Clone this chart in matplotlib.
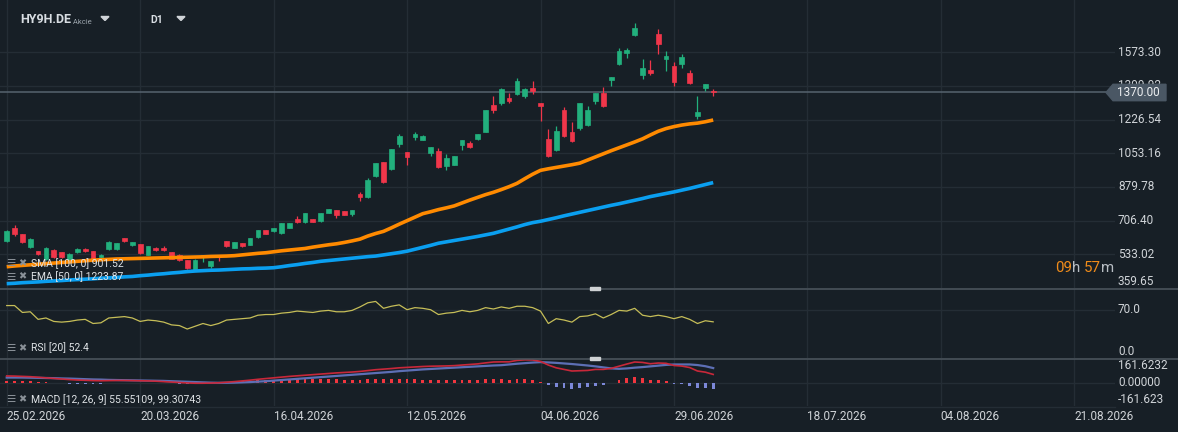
import matplotlib
matplotlib.use('Agg')
import matplotlib.pyplot as plt
from matplotlib.patches import Rectangle, Polygon
from matplotlib.transforms import blended_transform_factory as blend

# ---------------- data ----------------
date_labels = ['25.02.2026', '20.03.2026', '16.04.2026', '12.05.2026', '04.06.2026',
               '29.06.2026', '18.07.2026', '04.08.2026', '21.08.2026']
date_step = 17

opens = [601, 670, 635, 570, 548, 508, 553, 543, 493, 544, 562, 548, 519, 560, 560, 615, 580, 584, 531, 568,
         568, 543, 532, 502, 450, 519, 472, 526, 599, 565, 589, 582, 621, 656, 652, 642, 668, 714, 699, 714,
         704, 745, 759, 754, 740, 841, 827, 935, 1006, 971, 1100, 1057, 1136, 1123, 1054, 1062, 987, 992, 1095, 1104,
         1126, 1162, 1299, 1311, 1335, 1356, 1345, 1387, 1309, 1128, 1068, 1273, 1160, 1182, 1196, 1320, 1362, 1428, 1512, 1568,
         1661, 1455, 1479, 1664, 1536, 1500, 1510, 1464, 1244, 1388, 1374]
highs = [656, 682, 638, 616, 551, 569, 558, 545, 540, 567, 564, 550, 537, 601, 592, 617, 597, 587, 576, 573,
         574, 545, 535, 505, 508, 530, 499, 528, 601, 596, 592, 617, 658, 660, 668, 694, 694, 728, 745, 716,
         745, 766, 761, 756, 761, 851, 925, 1004, 1008, 1075, 1150, 1060, 1160, 1145, 1085, 1078, 1047, 1039, 1121, 1115,
         1152, 1275, 1345, 1387, 1362, 1438, 1388, 1423, 1311, 1179, 1191, 1289, 1212, 1312, 1294, 1365, 1392, 1446, 1592, 1592,
         1721, 1536, 1531, 1690, 1577, 1520, 1562, 1479, 1350, 1410, 1381]
lows = [597, 629, 593, 567, 531, 506, 514, 516, 490, 541, 546, 504, 516, 557, 557, 598, 575, 536, 528, 552,
        551, 507, 499, 459, 447, 493, 462, 496, 573, 563, 573, 580, 619, 636, 650, 640, 666, 693, 696, 697,
        701, 743, 719, 733, 729, 807, 824, 932, 902, 969, 1084, 990, 1121, 1120, 1038, 979, 965, 990, 1068, 1082,
        1121, 1160, 1260, 1301, 1311, 1351, 1337, 1356, 1217, 1032, 1063, 1134, 1109, 1172, 1194, 1306, 1293, 1398, 1509, 1541,
        1658, 1433, 1453, 1562, 1474, 1397, 1489, 1409, 1227, 1371, 1345]
closes = [651, 639, 596, 613, 534, 567, 519, 519, 536, 558, 550, 507, 532, 598, 589, 601, 594, 539, 574, 555,
          555, 510, 502, 462, 505, 527, 496, 521, 575, 594, 575, 615, 656, 639, 666, 692, 692, 697, 743, 699,
          743, 764, 735, 735, 759, 826, 913, 1001, 904, 1073, 1140, 1033, 1150, 1140, 1083, 982, 1026, 1037, 1119, 1085,
          1150, 1273, 1273, 1381, 1320, 1423, 1385, 1371, 1296, 1037, 1165, 1141, 1114, 1309, 1278, 1362, 1296, 1443, 1577, 1582,
          1695, 1489, 1464, 1613, 1551, 1419, 1546, 1412, 1263, 1407, 1370]

ema50 = [469, 473, 476, 479, 482, 485, 488, 491, 494, 497, 500, 503, 505, 507, 509, 510, 511, 512, 513, 514,
         515, 516, 517, 518, 519, 520, 522, 523, 524, 526, 530, 534, 538, 541, 546, 551, 555, 559, 563, 570,
         576, 582, 587, 594, 602, 611, 627, 640, 651, 669, 688, 706, 724, 742, 752, 763, 772, 782, 797, 812,
         826, 840, 852, 866, 881, 898, 922, 945, 965, 973, 980, 987, 994, 1002, 1018, 1034, 1050, 1066, 1081, 1096,
         1111, 1127, 1147, 1166, 1180, 1190, 1198, 1204, 1208, 1215, 1224]
sma100 = [382, 384, 387, 389, 391, 394, 396, 398, 401, 403, 405, 407, 410, 412, 414, 417, 419, 423, 426, 430,
          433, 437, 440, 444, 447, 449, 451, 452, 454, 456, 458, 459, 461, 462, 464, 469, 475, 480, 486, 491,
          497, 501, 505, 509, 513, 517, 521, 524, 530, 536, 542, 549, 559, 569, 579, 590, 597, 604, 611, 618,
          625, 633, 641, 652, 663, 674, 686, 696, 703, 712, 721, 731, 740, 749, 758, 767, 776, 785, 793, 802,
          811, 820, 830, 838, 846, 854, 863, 872, 882, 892, 902]

rsi = [76, 76, 66, 67, 56, 58, 53, 52, 53, 55, 56, 50, 51, 58, 59, 60, 58, 53, 55, 54,
       52, 48, 47, 42, 46, 50, 47, 50, 55, 56, 57, 58, 62, 63, 63, 65, 66, 68, 67, 66,
       68, 69, 67, 67, 69, 74, 80, 82, 72, 75, 77, 70, 73, 72, 70, 63, 65, 66, 69, 67,
       69, 73, 71, 74, 72, 75, 75, 73, 68, 50, 57, 55, 52, 60, 61, 64, 58, 63, 69, 68,
       72, 62, 60, 62, 60, 57, 60, 56, 50, 54, 52.4]

macd = [45, 44, 42, 40, 36, 32, 28, 24, 20, 17, 15, 13, 12, 13, 14, 14, 13, 12, 11, 9,
        6, 3, 0, -3, -5, -5, -4, -2, 2, 6, 11, 16, 22, 27, 32, 37, 42, 46, 50, 54,
        58, 62, 66, 69, 72, 76, 82, 88, 92, 96, 101, 104, 107, 110, 112, 113, 114, 116, 120, 124,
        128, 135, 141, 142, 142, 152, 156, 155, 145, 120, 101, 90, 79, 81, 83, 90, 90, 97, 112, 127,
        141, 138, 129, 134, 132, 117, 113, 103, 79, 71, 55.55]
signal = [34, 34, 34, 33, 32, 31, 30, 28, 27, 25, 23, 21, 20, 18, 17, 16, 15, 14, 13, 12,
          11, 9, 7, 5, 3, 1, -1, -2, -2, -1, 1, 3, 6, 9, 13, 17, 21, 25, 29, 33,
          37, 41, 45, 49, 53, 57, 61, 65, 69, 73, 78, 82, 86, 90, 93, 96, 99, 102, 105, 108,
          111, 114, 117, 119, 124, 129, 133, 137, 140, 138, 135, 131, 127, 122, 117, 111, 104, 97, 94, 97,
          102, 106, 111, 116, 121, 124, 124, 124, 120, 112, 99.31]
hist = [11, 10, 8, 7, 4, 1, -2, -4, -7, -8, -8, -8, -8, -5, -3, -2, -2, -2, -2, -3,
        -5, -6, -7, -8, -8, -6, -3, 0, 4, 7, 10, 13, 16, 18, 19, 20, 21, 21, 21, 21,
        21, 21, 21, 20, 19, 19, 21, 23, 23, 23, 23, 22, 21, 20, 19, 17, 15, 14, 15, 16,
        17, 21, 24, 23, 18, 23, 23, 18, 5, -18, -34, -41, -48, -41, -34, -21, -14, 0, 18, 30,
        39, 32, 18, 18, 11, -7, -11, -21, -41, -41, -44]

price_ticks = ['359.65', '533.02', '706.40', '879.78', '1053.16', '1226.54', '1399.92', '1573.30']
last_price = 1370.00

# ---------------- style ----------------
BG = '#171f26'
GRID = '#242d35'
SEP = '#4a535b'
TXT = '#d0d4d8'
GREEN = '#22b07d'
RED = '#f0364a'
FONT = 'Roboto'
plt.rcParams['font.family'] = [FONT, 'DejaVu Sans']

W, H = 1178, 432
fig = plt.figure(figsize=(W / 100, H / 100), dpi=100)
fig.patch.set_facecolor(BG)

def rect(x0, y0, x1, y1):
    return [x0 / W, 1 - y1 / H, (x1 - x0) / W, (y1 - y0) / H]

PX0, PXS = 6.7, 7.85      # pixel of bar 0, pixels per bar
PR = 1115
xlim = (-PX0 / PXS, (PR - PX0) / PXS)

ax = fig.add_axes(rect(0, 0, PR, 288))
ax_r = fig.add_axes(rect(0, 289, PR, 358))
ax_m = fig.add_axes(rect(0, 359, PR, 406))
ov = fig.add_axes([0, 0, 1, 1])
ov.set_xlim(0, W); ov.set_ylim(H, 0); ov.axis('off'); ov.patch.set_alpha(0)

for a in (ax, ax_r, ax_m):
    a.set_facecolor(BG)
    a.set_xlim(*xlim)
    for s in a.spines.values():
        s.set_visible(False)
    a.set_xticks([]); a.set_yticks([])
    for k in range(len(date_labels)):
        a.axvline(k * date_step, color=GRID, lw=1, zorder=0)

# main pane
tick_vals = [float(t) for t in price_ticks]
ymin = tick_vals[0]
ymax = ymin + 288 * 5.145
ax.set_ylim(ymin, ymax)
for v in tick_vals[1:]:
    ax.axhline(v, color=GRID, lw=1, zorder=0)
bt = blend(ax.transAxes, ax.transData)
for t, v in zip(price_ticks, tick_vals):
    ax.text(1 + 3 / PR, v, t, transform=bt, ha='left', va='bottom' if v == ymin else 'center',
            color=TXT, fontsize=8.5, clip_on=False, zorder=1)

n = len(opens)
xs = list(range(n))
for i in xs:
    o, h, l, c = opens[i], highs[i], lows[i], closes[i]
    col = GREEN if c >= o else RED
    ax.vlines(i, l, h, color=col, lw=0.9, zorder=3)
    body = abs(c - o)
    if body < 5:
        body = 5
    ax.bar(i, body, bottom=min(o, c), width=0.6, color=col, edgecolor=col, lw=0.5, zorder=4)

ax.plot(xs, sma100, color='#0a9ff0', lw=2.6, zorder=5, solid_capstyle='butt')
ax.plot(xs, ema50, color='#ff8a00', lw=2.6, zorder=5, solid_capstyle='butt')
ax.axhline(last_price, color='#56636f', lw=1.1, zorder=2)

# RSI pane
ax_r.set_ylim(0, 100)
ax_r.axhline(70, color=GRID, lw=1, zorder=0)
ax_r.plot(xs, rsi, color='#c6be58', lw=0.9, zorder=3)
btr = blend(ax_r.transAxes, ax_r.transData)
ax_r.text(1 + 3 / PR, 70, '70.0', transform=btr, va='center', color=TXT, fontsize=8.5, clip_on=False)
ax_r.text(1 + 3 / PR, 0, '0.0', transform=btr, va='bottom', color=TXT, fontsize=8.5, clip_on=False)

# MACD pane
M = 161.6232
ax_m.set_ylim(-M, M)
ax_m.axhline(0, color=GRID, lw=1, zorder=0)
hcols = ['#f0363f' if h >= 0 else '#7c88d8' for h in hist]
ax_m.bar(xs, hist, width=0.36, color=hcols, zorder=2)
ax_m.plot(xs, signal, color='#5d6fb5', lw=1.6, zorder=3)
ax_m.plot(xs, macd, color='#c8283a', lw=1.2, zorder=4)
btm = blend(ax_m.transAxes, ax_m.transData)
ax_m.text(1 + 3 / PR, M, '161.6232', transform=btm, va='top', color=TXT, fontsize=8.5, clip_on=False)
ax_m.text(1 + 3 / PR, 0, '0.00000', transform=btm, va='center', color=TXT, fontsize=8.5, clip_on=False)
ax_m.text(1 + 3 / PR, -M, '-161.623', transform=btm, va='bottom', color=TXT, fontsize=8.5, clip_on=False)

# date labels
bd = blend(ax_m.transData, ov.transData)
for k, lab in enumerate(date_labels):
    ax_m.text(k * date_step, 417, lab, transform=bd, ha='left', va='center', color=TXT,
              fontsize=8.5, clip_on=False)

# separators and handles
ov.plot([0, W], [288.5, 288.5], color=SEP, lw=1.2)
ov.plot([0, W], [358.5, 358.5], color=SEP, lw=1.2)
ov.plot([0, PR], [406.5, 406.5], color=GRID, lw=1)
for yy in (288.5, 358.5):
    ov.add_patch(Rectangle((590, yy - 1.5), 10, 3, color='#cfd2d4', zorder=6))

# current price label
ov.add_patch(Polygon([(1106, 92.5), (1113, 84.3), (1166, 84.3), (1166, 100.7), (1113, 100.7)],
                     closed=True, color='#4a5764', zorder=7))
ov.text(1117, 92.8, f'{last_price:.2f}', color='#eef0f2', fontsize=8.5, va='center', ha='left', zorder=8)

# countdown
CS = 10.8
t1 = ov.text(1055, 268, '09', color='#f08c1a', fontsize=CS, va='center', ha='left')
t2 = ov.annotate('h ', xy=(1, 0), xycoords=t1, va='bottom', ha='left', color='#b8bec4', fontsize=CS)
t3 = ov.annotate('57', xy=(1, 0), xycoords=t2, va='bottom', ha='left', color='#f08c1a', fontsize=CS)
ov.annotate('m', xy=(1, 0), xycoords=t3, va='bottom', ha='left', color='#b8bec4', fontsize=CS)

# header
h1 = ov.text(20, 19.5, 'HY9H.DE', color='#d8dde2', fontsize=9, fontweight='bold', va='center', ha='left')
ov.annotate(' Akcie', xy=(1, 0.05), xycoords=h1, va='bottom', ha='left', color='#9aa3ab', fontsize=5.5)
ov.add_patch(Polygon([(101, 16.5), (109, 16.5), (105, 20.5)], closed=True, color='#d0d4d8'))
ov.text(150, 20, 'D1', color='#d8dde2', fontsize=7.5, fontweight='bold', va='center', ha='left')
ov.add_patch(Polygon([(177, 16.5), (185, 16.5), (181, 20.5)], closed=True, color='#d0d4d8'))

# legends
ICON = '#8a9198'
def legend(y, text):
    ov.text(6, y, '\u2630', color=ICON, fontsize=7.5, va='center', ha='left', family='DejaVu Sans')
    ov.text(18, y, '\u2716', color=ICON, fontsize=7, va='center', ha='left', family='DejaVu Sans')
    ov.text(31, y, text, color='#dfe3e6', fontsize=7.5, va='center', ha='left')

legend(263.5, 'SMA [100, 0] 901.52')
legend(276.5, 'EMA [50, 0] 1223.87')
legend(348, 'RSI [20] 52.4')
legend(399.5, 'MACD [12, 26, 9] 55.55109, 99.30743')

fig.savefig('out.png', dpi=100, facecolor=BG)
